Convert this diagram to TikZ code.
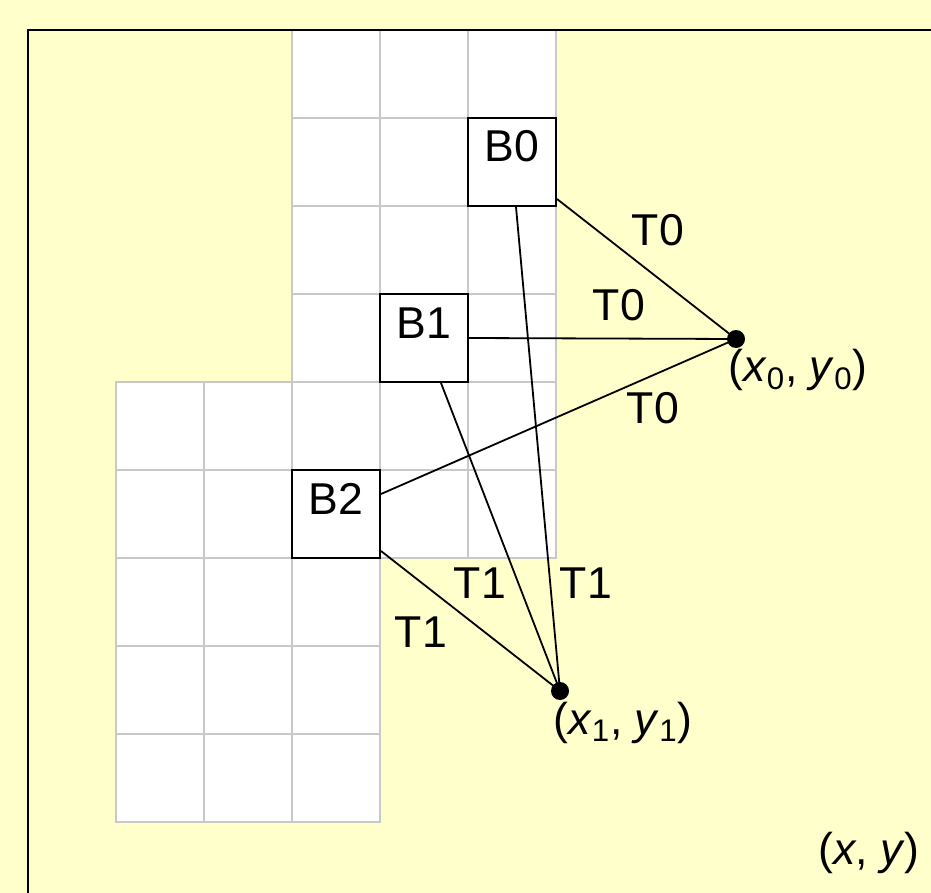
\documentclass[tikz,border=0pt]{standalone}
\usepackage{fontspec}
\setmainfont{Liberation Sans}
\definecolor{bgyellow}{HTML}{FFFFCC}
\definecolor{gridgray}{HTML}{C8C8C8}
\begin{document}
\begin{tikzpicture}[x=0.5pt,y=-0.5pt,
  box/.style={draw=black,line width=1pt,fill=white,minimum width=44pt,minimum height=44pt,
    inner sep=6pt,text height=16pt,text depth=16pt,font=\fontsize{22.3}{26}\selectfont},
  lbl/.style={font=\fontsize{22.3}{26}\selectfont,inner sep=0pt},
  dot/.style={circle,fill=black,minimum size=9pt,inner sep=0pt},
  link/.style={draw=black,line width=0.9pt},
  gridline/.style={draw=gridgray,line width=1pt}]
\fill[bgyellow] (0,0) rectangle (931,893);
\useasboundingbox (0,0) rectangle (931,893);
\clip (0,0) rectangle (931,893);
% white grids
\fill[white] (292,30) rectangle (556,558);
\fill[white] (116,382) rectangle (380,822);
\draw[gridline] (292,30) rectangle (556,558);
\foreach \yy in {118,206,294,382,470} \draw[gridline] (292,\yy) -- (556,\yy);
\foreach \xx in {380,468} \draw[gridline] (\xx,30) -- (\xx,558);
\draw[gridline] (116,382) rectangle (380,822);
\foreach \yy in {470,558,646,734} \draw[gridline] (116,\yy) -- (380,\yy);
\foreach \xx in {204,292} \draw[gridline] (\xx,382) -- (\xx,822);
% frame
\draw[black,line width=1pt] (28,960) -- (28,30) -- (1000,30);
% boxes
\node[box] (b0) at (512,162) {B0};
\node[box] (b1) at (424,338) {B1};
\node[box] (b2) at (336,514) {B2};
% points
\node[dot] (p0) at (736,339) {};
\node[dot] (p1) at (560,691) {};
% connectors
\draw[link] ([yshift=4pt]b0.south east) -- (p0.center);
\draw[link] (b1.east) -- (p0.center);
\draw[link] ([yshift=10pt]b2.east) -- (p0.center);
\draw[link] ([xshift=2pt]b0.south) -- (p1.center);
\draw[link] ([xshift=8.5pt]b1.south) -- (p1.center);
\draw[link] ([yshift=4pt]b2.south east) -- (p1.center);
% labels
\node[lbl] (t0a) at (658,230) {T0};
\node[lbl] (t0b) at (619,305) {T0};
\node[lbl] (t0c) at (653,408) {T0};
\node[lbl] (t1a) at (421,632) {T1};
\node[lbl] (t1b) at (480,583) {T1};
\node[lbl] (t1c) at (586,583) {T1};
\node[lbl] (c0) at (798,370) {(\textit{x}\textsubscript{0}, \textit{y}\textsubscript{0})};
\node[lbl] (c1) at (623,723) {(\textit{x}\textsubscript{1}, \textit{y}\textsubscript{1})};
\node[lbl] (cxy) at (869,853) {(\textit{x}, \textit{y})};
\end{tikzpicture}
\end{document}
